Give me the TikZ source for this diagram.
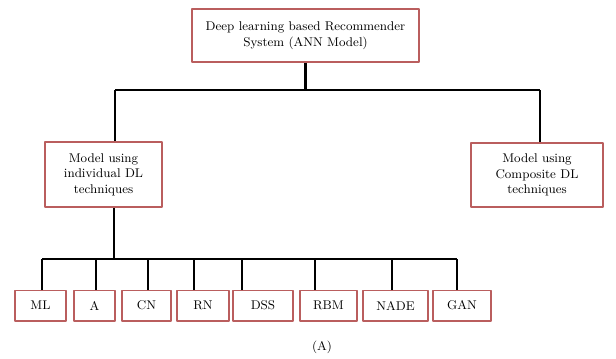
\documentclass[tikz,border=0pt]{standalone}
\usepackage{xcolor}
\usepackage{tikz}
\usetikzlibrary{calc}

\definecolor{boxred}{HTML}{BA5E5E}

\begin{document}
\begin{tikzpicture}[x=0.025cm,y=-0.025cm,line join=round,
    box/.style={draw=boxred,line width=1.4pt,fill=white,align=center,font=\small,inner sep=2pt},
    conn/.style={line width=1.5pt,black}]
  \useasboundingbox (0,0) rectangle (616,358);
  % main boxes
  \node[box,minimum width=5.675cm,minimum height=1.325cm] (root) at (305.5,35.5)
    {Deep learning based Recommender\\System (ANN Model)};
  \node[box,minimum width=2.925cm,minimum height=1.625cm] (indiv) at (103.5,174.5)
    {Model using\\individual DL\\techniques};
  \node[box,minimum width=3.3cm,minimum height=1.6cm] (comp) at (537,175)
    {Model using\\Composite DL\\techniques};
  % upper bus
  \coordinate (hubA) at (305.5,90);
  \coordinate (dropI) at (115,90);
  \coordinate (dropC) at (540,90);
  \draw[conn] (root.south) -- (hubA);
  \draw[conn] (dropI) -- (dropC);
  \draw[conn] (dropI) -- (dropI |- indiv.north);
  \draw[conn] (dropC) -- (dropC |- comp.north);
  % lower bus
  \coordinate (hubB) at (114,259);
  \coordinate (busL) at (42,259);
  \coordinate (busR) at (457,259);
  \draw[conn] (hubB |- indiv.south) -- (hubB);
  \draw[conn] (busL) -- (busR);
  \foreach \nm/\cx/\w/\dx/\lbl in {ml/40.5/51/42/ML,a/94.5/41/96/A,cn/146.5/49/148/CN,
      rn/203/52/194/RN,dss/263/60/242/DSS,rbm/328.5/57/315/RBM,
      nade/395.5/65/392/NADE,gan/462/58/457/GAN}{
    \node[box,minimum width=\w*0.025cm,minimum height=0.75cm] (\nm) at (\cx,305.5) {\lbl};
    \coordinate (\nm top) at (\dx,259);
    \draw[conn] (\nm top) -- (\nm top |- \nm.north);
  }
  \node[font=\small] (cap) at (322,347) {(A)};
\end{tikzpicture}
\end{document}
